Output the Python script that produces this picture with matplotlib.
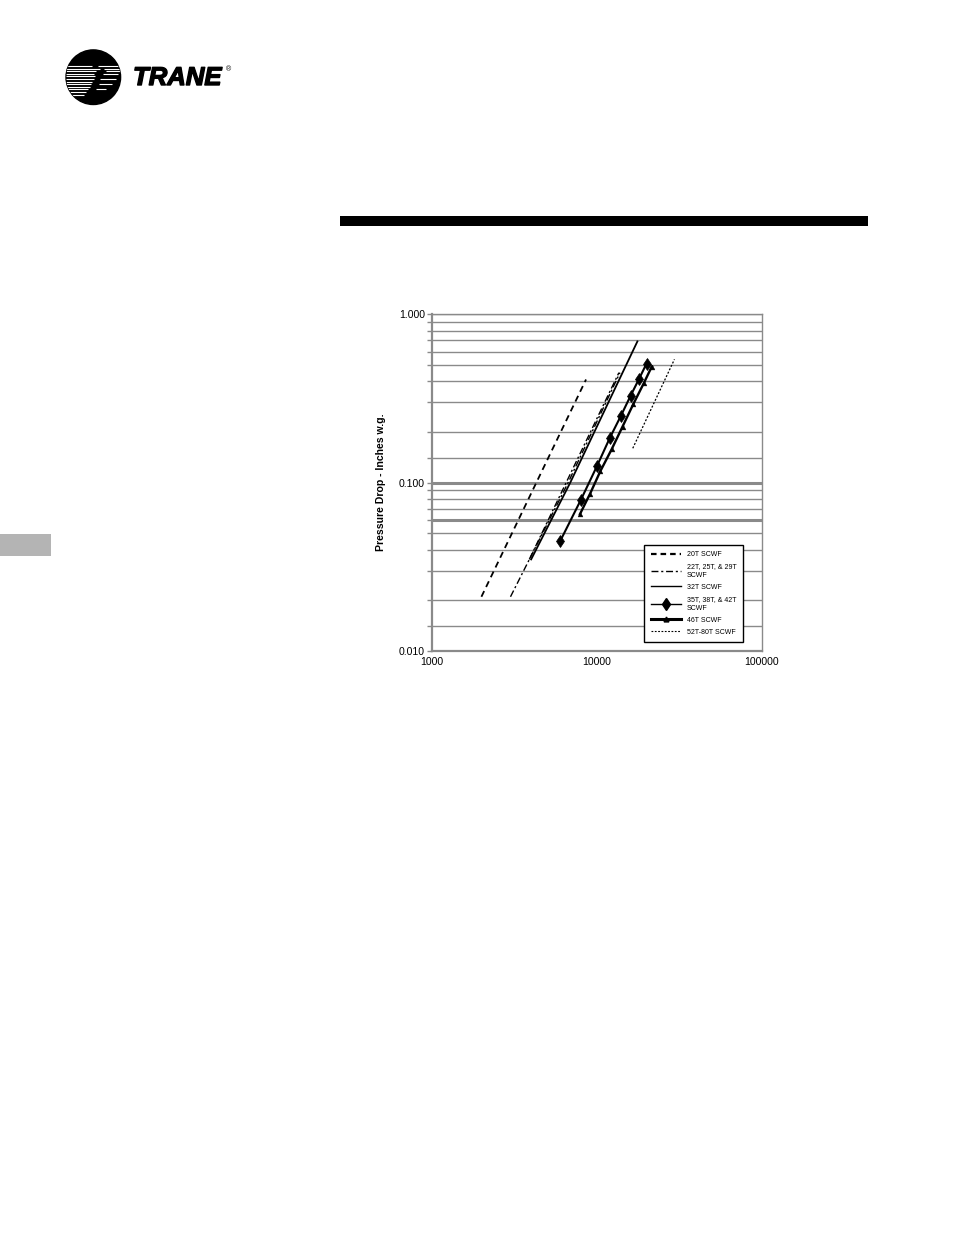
import matplotlib
matplotlib.use("Agg")
import matplotlib.pyplot as plt
import matplotlib.patheffects as pe
from matplotlib.patches import Circle, Rectangle
from matplotlib.lines import Line2D

plt.rcParams['font.family'] = ['Liberation Sans', 'DejaVu Sans']

# ---------------- data ----------------
cfm_20T = [2000, 4300, 8600]
dp_20T = [0.021, 0.100, 0.41]

cfm_22T = [3000, 6700, 13800]
dp_22T = [0.021, 0.100, 0.45]

cfm_25T = [3900, 13600]
dp_25T = [0.035, 0.45]

cfm_32T = [4000, 6900, 17600]
dp_32T = [0.035, 0.100, 0.69]

cfm_35T = [6000, 8000, 10000, 12000, 14000, 16000, 18000, 20000]
dp_35T = [0.045, 0.079, 0.125, 0.185, 0.25, 0.328, 0.413, 0.51]

cfm_46T = [7900, 9100, 10500, 12300, 14300, 16600, 19300, 21500]
dp_46T = [0.065, 0.086, 0.117, 0.158, 0.215, 0.292, 0.392, 0.489]

cfm_52T = [16500, 29500]
dp_52T = [0.16, 0.54]

labels = ["20T SCWF", "22T, 25T, & 29T\nSCWF", "32T SCWF",
          "35T, 38T, & 42T\nSCWF", "46T SCWF", "52T-80T SCWF"]

grid_levels = [0.014, 0.02, 0.03, 0.04, 0.05, 0.06, 0.07, 0.08, 0.09, 0.1,
               0.14, 0.2, 0.3, 0.4, 0.5, 0.6, 0.7, 0.8, 0.9, 1.0]
thick_levels = [0.06, 0.1]
ytick_major = [0.01, 0.1, 1.0]
ytick_labels = ["0.010", "0.100", "1.000"]
xtick_major = [1000, 10000, 100000]
xtick_labels = ["1000", "10000", "100000"]

W, H = 954, 1235
fig = plt.figure(figsize=(W / 100, H / 100), dpi=100)

# ---------------- page decorations ----------------
page = fig.add_axes([0, 0, 1, 1])
page.set_xlim(0, W)
page.set_ylim(H, 0)
page.axis('off')
page.patch.set_visible(False)

# logo circle
circ = Circle((93.3, 77.2), 27.3, color='black', zorder=2)
page.add_patch(circ)
stripe_y = [66.0, 68.6, 71.2, 73.8, 76.4, 79.0, 81.6, 84.2, 86.8, 89.4, 92.0, 94.6]
stripe_segs = [[(66, 92), (98, 121)], [(66, 100), (104, 121)], [(66, 96), (106, 121)],
               [(66, 94), (103, 118)], [(66, 95)], [(66, 94), (100, 116)],
               [(66, 92)], [(66, 91), (99, 112)], [(66, 90)], [(66, 88), (96, 106)],
               [(66, 86)], [(66, 84)]]
for yy, segs in zip(stripe_y, stripe_segs):
    for (a, b) in segs:
        ln, = page.plot([a, b], [yy, yy], color='white', lw=0.8, zorder=3,
                        solid_capstyle='butt')
        ln.set_clip_path(circ)
page.text(133, 85, "TRANE", fontsize=18.5, fontweight='bold', fontstyle='italic',
          family='Liberation Sans', va='baseline', ha='left', color='black',
          path_effects=[pe.withStroke(linewidth=1.0, foreground='black')])
page.text(226, 70, "®", fontsize=5, va='center', ha='left', color='black')

# black rule
page.add_patch(Rectangle((340, 216), 528, 10, color='black', lw=0))
# gray side tab
page.add_patch(Rectangle((0, 534), 51, 22, color='#b4b4b4', lw=0))

# ---------------- chart ----------------
left, right, top, bottom = 431.7, 762.0, 314.3, 651.0
ax = fig.add_axes([left / W, 1 - bottom / H, (right - left) / W, (bottom - top) / H])
ax.set_xscale('log')
ax.set_yscale('log')
ax.set_xlim(1000, 100000)
ax.set_ylim(0.01, 1.0)

gcol = '#8a8a8a'
for g in grid_levels:
    ax.axhline(g, color=gcol, lw=2.2 if g in thick_levels else 1.0, zorder=1)

for s in ax.spines.values():
    s.set_color(gcol)
    s.set_linewidth(1.0)
ax.spines['left'].set_linewidth(1.6)
ax.spines['bottom'].set_linewidth(1.6)

ax.set_yticks(ytick_major)
ax.set_yticklabels(ytick_labels, fontsize=7.6)
ax.set_yticks([g for g in grid_levels if g not in ytick_major], minor=True)
ax.yaxis.set_minor_formatter(matplotlib.ticker.NullFormatter())
ax.tick_params(axis='y', which='both', color=gcol, length=3.5, width=1.0, pad=1.5)
ax.set_xticks(xtick_major)
ax.set_xticklabels(xtick_labels, fontsize=7.6)
ax.xaxis.set_minor_locator(matplotlib.ticker.NullLocator())
ax.tick_params(axis='x', which='both', length=0, pad=4)

ax.set_ylabel("Pressure Drop - Inches w.g.", fontsize=7.6, fontweight='bold', labelpad=9)

ax.plot(cfm_20T, dp_20T, color='black', lw=1.3, dashes=(3.5, 2.5), zorder=3)
ax.plot(cfm_22T, dp_22T, color='black', lw=1.0, dashes=(5, 2, 1.5, 2), zorder=3)
ax.plot(cfm_25T, dp_25T, color='black', lw=1.0, dashes=(5, 2, 1.5, 2), zorder=3)
ax.plot(cfm_32T, dp_32T, color='black', lw=1.3, zorder=3)
ax.plot(cfm_35T, dp_35T, color='black', lw=1.5, marker='d', markersize=6.0,
        markeredgewidth=0.5, zorder=3)
ax.plot(cfm_46T, dp_46T, color='black', lw=1.7, marker='^', markersize=3.5,
        markeredgewidth=0.3, zorder=3)
ax.plot(cfm_52T, dp_52T, color='black', lw=0.9, dashes=(1.6, 1.4), zorder=3)

handles = [
    Line2D([], [], color='black', lw=1.6, dashes=(2.5, 1.8)),
    Line2D([], [], color='black', lw=1.0, dashes=(5, 2, 1.5, 2)),
    Line2D([], [], color='black', lw=1.0),
    Line2D([], [], color='black', lw=1.0, marker='d', markersize=6.0),
    Line2D([], [], color='black', lw=2.2, marker='^', markersize=3.5),
    Line2D([], [], color='black', lw=0.8, dashes=(1.6, 1.4)),
]
leg = ax.legend(handles, labels, loc='lower left', bbox_to_anchor=(0.643, 0.026),
                fontsize=5.0, frameon=True, fancybox=False, framealpha=1,
                edgecolor='black', handlelength=4.3, handletextpad=0.9,
                labelspacing=0.72, borderpad=0.95, borderaxespad=0, markerscale=1.0)
for t in leg.get_texts():
    t.set_linespacing(1.35)
leg.get_frame().set_linewidth(1.0)
leg.set_zorder(5)

fig.savefig("out.png", dpi=100)
